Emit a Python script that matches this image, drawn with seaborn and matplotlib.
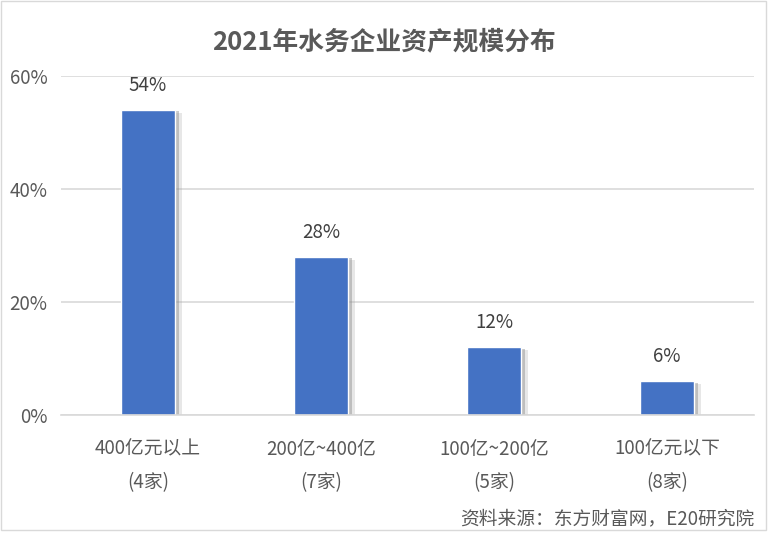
import matplotlib
matplotlib.use("Agg")
import matplotlib.pyplot as plt
import matplotlib.patheffects as pe
import pandas as pd
import seaborn as sns
from matplotlib.patches import Rectangle

categories = ["400亿元以上\n(4家)", "200亿~400亿\n(7家)", "100亿~200亿\n(5家)", "100亿元以下\n(8家)"]
shares = [0.54, 0.28, 0.12, 0.06]
bar_labels = ["54%", "28%", "12%", "6%"]
y_ticks = [0, 0.2, 0.4, 0.6]
y_tick_labels = ["0%", "20%", "40%", "60%"]
title = "2021年水务企业资产规模分布"
source = "资料来源：东方财富网，E20研究院"

sns.set_style("white")
plt.rcParams["font.family"] = ["Noto Sans CJK SC", "DejaVu Sans"]

df = pd.DataFrame({"cat": categories, "share": shares})

fig = plt.figure(figsize=(7.83, 5.45), dpi=100)
ax = fig.add_axes([0.0785, 0.2385, 0.884, 0.622])

sns.barplot(data=df, x="cat", y="share", color="#4472C4", saturation=1,
            width=0.31, ax=ax)

# soft shadow to the lower right like the original
for p in ax.patches:
    p.set_path_effects([pe.SimplePatchShadow(offset=(5, -2), shadow_rgbFace="#a0a0a0", alpha=0.25),
                        pe.SimplePatchShadow(offset=(3, -1), shadow_rgbFace="#8c8c8c", alpha=0.45),
                        pe.Normal()])

for p, lab in zip(ax.patches, bar_labels):
    ax.annotate(lab, (p.get_x() + p.get_width() / 2, p.get_height()),
                xytext=(0, 10), textcoords="offset points", ha="center", va="bottom",
                fontsize=13.5, color="#404040")

ax.set_ylim(0, 0.6)
ax.set_xlim(-0.5, 3.5)
ax.set_yticks(y_ticks)
ax.set_yticklabels(y_tick_labels, fontsize=13.5, color="#595959")
ax.yaxis.grid(True, color="#d9d9d9", linewidth=1.2)
ax.set_axisbelow(True)
ax.tick_params(axis="x", labelsize=13.5, labelcolor="#595959", length=0, pad=17)
ax.tick_params(axis="y", length=0, pad=10)
for lab in ax.get_xticklabels():
    lab.set_linespacing(1.75)
ax.set_xlabel("")
ax.set_ylabel("")
sns.despine(ax=ax, left=True, top=True, right=True)
ax.spines["bottom"].set_color("#d9d9d9")
ax.spines["bottom"].set_linewidth(1.2)

fig.text(0.491, 0.923, title, ha="center", va="center", fontsize=18.5,
         fontweight="bold", color="#595959")
fig.text(0.964, 0.048, source, ha="right", va="center", fontsize=13.5, color="#595959")

fig.patches.append(Rectangle((0.001, 0.0275), 0.977, 0.971, transform=fig.transFigure,
                             fill=False, edgecolor="#d9d9d9", linewidth=1))

fig.savefig("out.png", dpi=100)
